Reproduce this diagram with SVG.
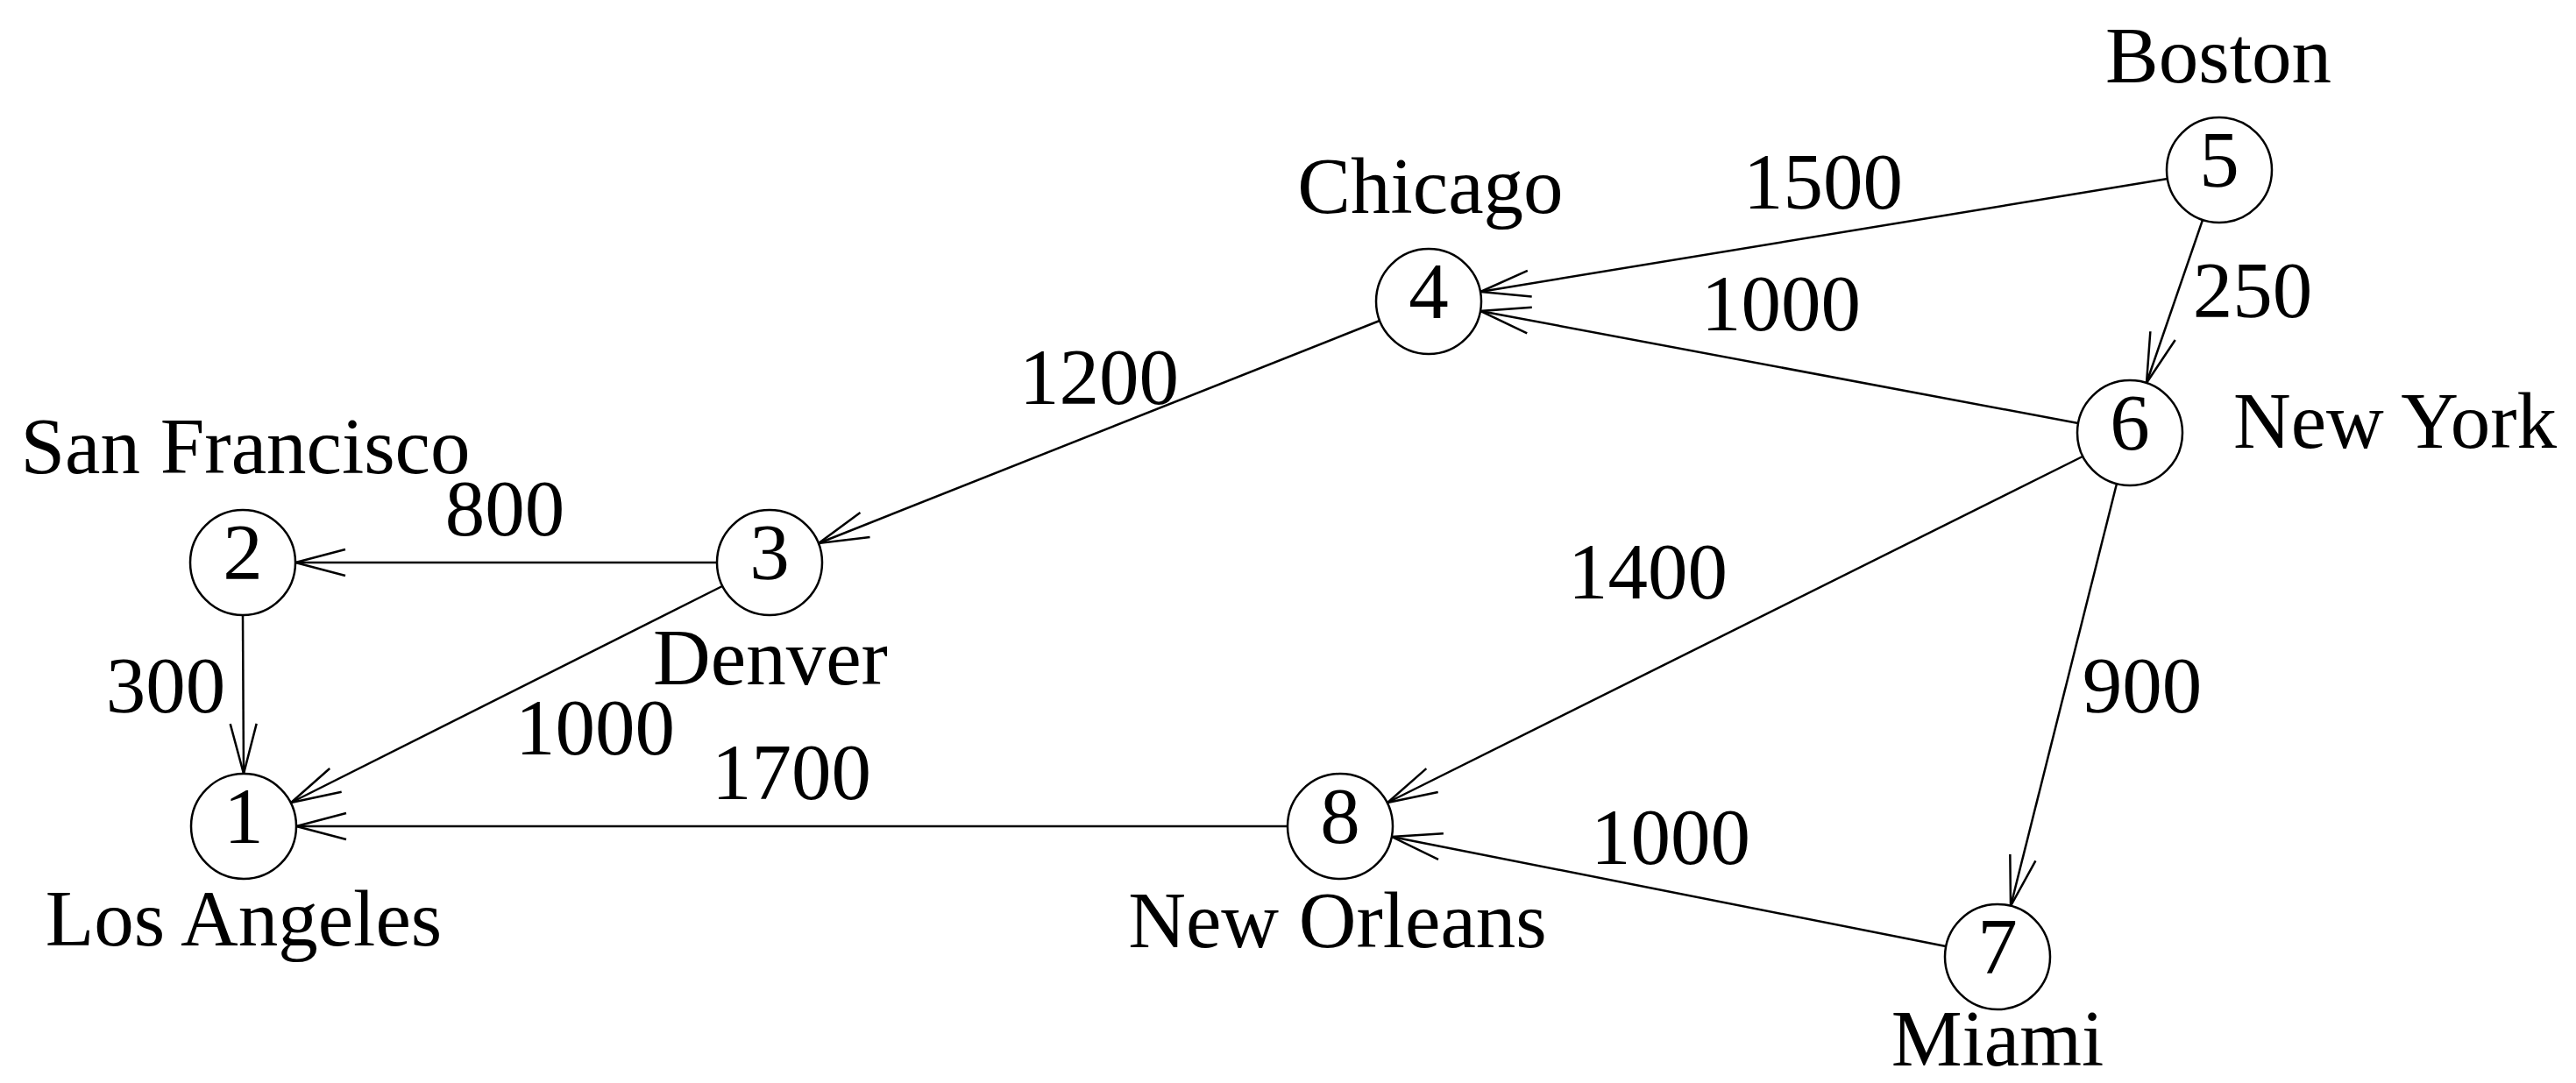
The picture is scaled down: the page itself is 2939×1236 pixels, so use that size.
<svg xmlns="http://www.w3.org/2000/svg" width="2939" height="1236" viewBox="0 0 2939 1236">
<style>
text{font-family:"Liberation Serif","Times New Roman",serif;font-size:91px;fill:#000}
.c{text-anchor:middle}
.node circle{fill:#fff;stroke:#000;stroke-width:2.5}
.edges line{stroke:#000;stroke-width:2.5;fill:none;marker-end:url(#arr)}
</style>
<defs>
<marker id="arr" markerUnits="userSpaceOnUse" viewBox="-62 -20 66 40" markerWidth="66" markerHeight="40" refX="0" refY="0" orient="auto">
<path d="M-57,-15 L0,0 L-57,15" fill="none" stroke="#000" stroke-width="2.5"/>
</marker>
</defs>
<rect width="2939" height="1236" fill="#fff"/>
<g class="edges" id="connectors">
<line x1="277" y1="702" x2="278" y2="883"/>
<line x1="818" y1="642" x2="337" y2="642"/>
<line x1="824" y1="669" x2="332" y2="916"/>
<line x1="1574" y1="366" x2="934" y2="620"/>
<line x1="2473" y1="204" x2="1689" y2="333"/>
<line x1="2371" y1="483" x2="1689" y2="355"/>
<line x1="2513" y1="251" x2="2449" y2="437"/>
<line x1="2376" y1="521" x2="1583" y2="916"/>
<line x1="2415" y1="552" x2="2294" y2="1034"/>
<line x1="2220" y1="1080" x2="1588" y2="955"/>
<line x1="1469" y1="943" x2="338" y2="943"/>
</g>
<g id="labels">
<text class="c" x="189" y="813">300</text>
<text class="c" x="576" y="611">800</text>
<text class="c" x="679" y="861">1000</text>
<text class="c" x="903" y="912">1700</text>
<text class="c" x="1254" y="461">1200</text>
<text class="c" x="2080" y="238">1500</text>
<text class="c" x="2032" y="377">1000</text>
<text class="c" x="2570" y="362">250</text>
<text class="c" x="1880" y="683">1400</text>
<text class="c" x="2444" y="813">900</text>
<text class="c" x="1906" y="986">1000</text>
</g>
<g id="node1" class="node"><circle cx="278" cy="943" r="60"/><text class="c" x="278" y="962">1</text><text class="c" x="278" y="1079">Los Angeles</text></g>
<g id="node2" class="node"><circle cx="277" cy="642" r="60"/><text class="c" x="277" y="661">2</text><text class="c" x="280" y="540">San Francisco</text></g>
<g id="node3" class="node"><circle cx="878" cy="642" r="60"/><text class="c" x="878" y="661">3</text><text class="c" x="879" y="781">Denver</text></g>
<g id="node4" class="node"><circle cx="1630" cy="344" r="60"/><text class="c" x="1630" y="363">4</text><text class="c" x="1632" y="243">Chicago</text></g>
<g id="node5" class="node"><circle cx="2532" cy="194" r="60"/><text class="c" x="2532" y="213">5</text><text class="c" x="2531" y="94">Boston</text></g>
<g id="node6" class="node"><circle cx="2430" cy="494" r="60"/><text class="c" x="2430" y="513">6</text><text x="2548" y="511">New York</text></g>
<g id="node7" class="node"><circle cx="2279" cy="1092" r="60"/><text class="c" x="2279" y="1111">7</text><text class="c" x="2279" y="1216">Miami</text></g>
<g id="node8" class="node"><circle cx="1529" cy="943" r="60"/><text class="c" x="1529" y="962">8</text><text class="c" x="1526" y="1081">New Orleans</text></g>
</svg>
